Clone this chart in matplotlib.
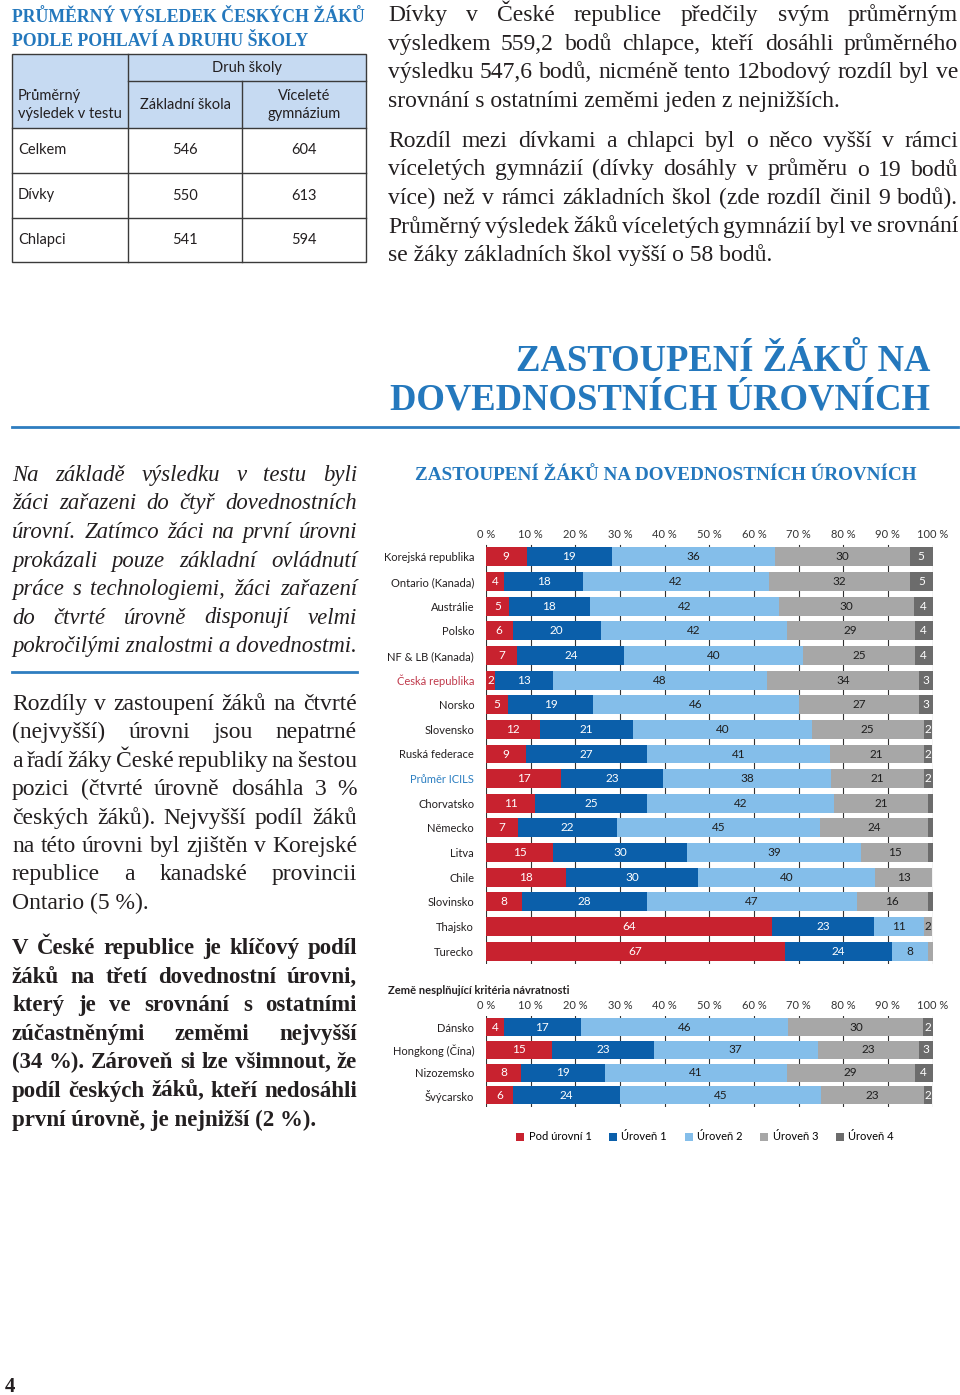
import matplotlib
matplotlib.use("Agg")
import matplotlib.pyplot as plt
from matplotlib.patches import Rectangle
from matplotlib.lines import Line2D

W, H = 960, 1395

# ---------- data ----------
table_cols = ["Základní škola", "Víceleté\ngymnázium"]
table_rows = ["Celkem", "Dívky", "Chlapci"]
table_zs = [546, 550, 541]
table_vg = [604, 613, 594]

countries = ["Korejská republika", "Ontario (Kanada)", "Austrálie", "Polsko",
             "NF & LB (Kanada)", "Česká republika", "Norsko", "Slovensko",
             "Ruská federace", "Průměr ICILS", "Chorvatsko", "Německo", "Litva",
             "Chile", "Slovinsko", "Thajsko", "Turecko"]
below1 = [9, 4, 5, 6, 7, 2, 5, 12, 9, 17, 11, 7, 15, 18, 8, 64, 67]
level1 = [19, 18, 18, 20, 24, 13, 19, 21, 27, 23, 25, 22, 30, 30, 28, 23, 24]
level2 = [36, 42, 42, 42, 40, 48, 46, 40, 41, 38, 42, 45, 39, 40, 47, 11, 8]
level3 = [30, 32, 30, 29, 25, 34, 27, 25, 21, 21, 21, 24, 15, 13, 16, 2, 1]
level4 = [5, 5, 4, 4, 4, 3, 3, 2, 2, 2, 1, 1, 1, 0, 1, 0, 0]

other = ["Dánsko", "Hongkong (Čína)", "Nizozemsko", "Švýcarsko"]
o_below1 = [4, 15, 8, 6]
o_level1 = [17, 23, 19, 24]
o_level2 = [46, 37, 41, 45]
o_level3 = [30, 23, 29, 23]
o_level4 = [2, 3, 4, 2]

level_names = ["Pod úrovní 1", "Úroveň 1", "Úroveň 2", "Úroveň 3", "Úroveň 4"]
level_colors = ["#C8222F", "#0B5FAA", "#84BEEA", "#A7A7A7", "#6C6C6C"]
label_colors = ["white", "white", "#1E1E1E", "#1E1E1E", "white"]
ticks = list(range(0, 101, 10))

BLUE = "#2478BD"
INK = "#231F20"
SERIF = "Liberation Serif"
SANS = "Lato"

fig = plt.figure(figsize=(W / 100, H / 100), dpi=100)
renderer = fig.canvas.get_renderer()


def text_px(x, y, s, **kw):
    return fig.text(x / W, 1 - y / H, s, **kw)


def width_px(s, **kw):
    t = fig.text(0, 0, s, **kw)
    w = t.get_window_extent(renderer).width
    t.remove()
    return w


def fitted(s, target, **kw):
    return 10 * target / width_px(s, fontsize=10, **kw)


def hline(x0, x1, y, color, lw):
    fig.add_artist(Line2D([x0 / W, x1 / W], [1 - y / H, 1 - y / H],
                          transform=fig.transFigure, color=color, lw=lw))


def paragraph(lines, x0, x1, y0, dy, size, **kw):
    # justified lines, last one left aligned
    for k, line in enumerate(lines):
        yb = y0 + k * dy
        if k == len(lines) - 1:
            text_px(x0, yb, line, fontsize=size, va="baseline", color=INK, **kw)
            continue
        words = line.split(" ")
        ws = [width_px(w, fontsize=size, **kw) for w in words]
        gap = (x1 - x0 - sum(ws)) / (len(words) - 1)
        x = x0
        for w, wd in zip(words, ws):
            text_px(x, yb, w, fontsize=size, va="baseline", color=INK, **kw)
            x += wd + gap


# ---------- top-left: heading + table ----------
hd = dict(family=SERIF, weight="bold", color=BLUE)
s = fitted("PRŮMĚRNÝ VÝSLEDEK ČESKÝCH ŽÁKŮ", 353, family=SERIF, weight="bold")
text_px(12, 22, "PRŮMĚRNÝ VÝSLEDEK ČESKÝCH ŽÁKŮ", fontsize=s, va="baseline", **hd)
text_px(12, 46, "PODLE POHLAVÍ A DRUHU ŠKOLY", fontsize=s, va="baseline", **hd)

xs = [12, 128, 242, 366]
ys = [54, 81, 128, 173, 218, 262]
edge = "#3A3A3A"
fig.add_artist(Rectangle((xs[0] / W, 1 - ys[2] / H), (xs[3] - xs[0]) / W,
                         (ys[2] - ys[0]) / H, transform=fig.transFigure,
                         facecolor="#C6DAF2", edgecolor="none"))
fig.add_artist(Rectangle((xs[0] / W, 1 - ys[5] / H), (xs[3] - xs[0]) / W,
                         (ys[5] - ys[0]) / H, transform=fig.transFigure,
                         facecolor="none", edgecolor=edge, lw=1))
hline(xs[1], xs[3], ys[1], edge, 1)
for y in ys[2:5]:
    hline(xs[0], xs[3], y, edge, 1)
fig.add_artist(Line2D([xs[1] / W] * 2, [1 - ys[0] / H, 1 - ys[5] / H],
                      transform=fig.transFigure, color=edge, lw=1))
fig.add_artist(Line2D([xs[2] / W] * 2, [1 - ys[1] / H, 1 - ys[5] / H],
                      transform=fig.transFigure, color=edge, lw=1))

tb = dict(family=SANS, fontsize=10.5, color=INK, va="center")
text_px(247, 68, "Druh školy", ha="center", **tb)
text_px(18, 105, "Průměrný\nvýsledek v testu", ha="left", linespacing=1.3, **tb)
text_px(185, 105, table_cols[0], ha="center", **tb)
text_px(304, 105, table_cols[1], ha="center", linespacing=1.3, **tb)
for k, name in enumerate(table_rows):
    yc = (ys[k + 2] + ys[k + 3]) / 2
    text_px(18, yc, name, ha="left", **tb)
    text_px(185, yc, str(table_zs[k]), ha="center", **tb)
    text_px(304, yc, str(table_vg[k]), ha="center", **tb)

# ---------- top-right paragraphs ----------
p1 = ["Dívky v České republice předčily svým průměrným",
      "výsledkem 559,2 bodů chlapce, kteří dosáhli průměrného",
      "výsledku 547,6 bodů, nicméně tento 12bodový rozdíl byl ve",
      "srovnání s ostatními zeměmi jeden z nejnižších."]
p2 = ["Rozdíl mezi dívkami a chlapci byl o něco vyšší v rámci",
      "víceletých gymnázií (dívky dosáhly v průměru o 19 bodů",
      "více) než v rámci základních škol (zde rozdíl činil 9 bodů).",
      "Průměrný výsledek žáků víceletých gymnázií byl ve srovnání",
      "se žáky základních škol vyšší o 58 bodů."]
sz = fitted(p1[-1], 452, family=SERIF)
paragraph(p1, 388, 958, 21, 28.7, sz, family=SERIF)
paragraph(p2, 388, 958, 147, 28.5, sz, family=SERIF)

# ---------- section heading ----------
sh = fitted("DOVEDNOSTNÍCH ÚROVNÍCH", 538, family=SERIF, weight="bold")
text_px(930, 371, "ZASTOUPENÍ ŽÁKŮ NA", fontsize=sh, ha="right", va="baseline", **hd)
text_px(930, 410, "DOVEDNOSTNÍCH ÚROVNÍCH", fontsize=sh, ha="right", va="baseline", **hd)
hline(12, 958, 427, "#2E7DC0", 2)

# ---------- left column ----------
it = ["Na základě výsledku v testu byli",
      "žáci zařazeni do čtyř dovednostních",
      "úrovní. Zatímco žáci na první úrovni",
      "prokázali pouze základní ovládnutí",
      "práce s technologiemi, žáci zařazení",
      "do čtvrté úrovně disponují velmi",
      "pokročilými znalostmi a dovednostmi."]
rg = ["Rozdíly v zastoupení žáků na čtvrté",
      "(nejvyšší) úrovni jsou nepatrné",
      "a řadí žáky České republiky na šestou",
      "pozici (čtvrté úrovně dosáhla 3 %",
      "českých žáků). Nejvyšší podíl žáků",
      "na této úrovni byl zjištěn v Korejské",
      "republice a kanadské provincii",
      "Ontario (5 %)."]
bd = ["V České republice je klíčový podíl",
      "žáků na třetí dovednostní úrovni,",
      "který je ve srovnání s ostatními",
      "zúčastněnými zeměmi nejvyšší",
      "(34 %). Zároveň si lze všimnout, že",
      "podíl českých žáků, kteří nedosáhli",
      "první úrovně, je nejnižší (2 %)."]
si = fitted(it[-1], 345, family=SERIF, style="italic")
paragraph(it, 12, 357, 481, 28.5, si, family=SERIF, style="italic")
hline(12, 357, 672, "#2E7DC0", 2)
paragraph(rg, 12, 357, 710, 28.4, sz, family=SERIF)
sb = fitted(bd[-1], 305, family=SERIF, weight="bold")
paragraph(bd, 12, 357, 954, 28.6, sb, family=SERIF, weight="bold")

text_px(5, 1392, "4", fontsize=15, family=SERIF, weight="bold", color=INK, va="baseline")

# ---------- chart ----------
ct = fitted("ZASTOUPENÍ ŽÁKŮ NA DOVEDNOSTNÍCH ÚROVNÍCH", 502, family=SERIF, weight="bold")
text_px(666, 480, "ZASTOUPENÍ ŽÁKŮ NA DOVEDNOSTNÍCH ÚROVNÍCH", fontsize=ct,
        ha="center", va="baseline", **hd)


def stacked(ax, names, series, bar_h):
    n = len(names)
    totals = [sum(v[i] for v in series) for i in range(n)]
    lefts = [0.0] * n
    handles = []
    for vals, col, lc, nm in zip(series, level_colors, label_colors, level_names):
        widths = [v / t * 100 for v, t in zip(vals, totals)]
        h = ax.barh(range(n), widths, left=lefts, height=bar_h, color=col,
                    linewidth=0, label=nm, zorder=2)
        handles.append(h)
        for i, (v, w, l) in enumerate(zip(vals, widths, lefts)):
            if v >= 2:
                ax.text(l + w / 2, i, str(v), ha="center", va="center",
                        fontsize=8.5, family=SANS, color=lc, zorder=3)
        lefts = [l + w for l, w in zip(lefts, widths)]
    ax.set_xlim(0, 100)
    ax.set_ylim(n - 0.5, -0.5)
    ax.set_xticks(ticks)
    ax.set_xticklabels([f"{t} %" for t in ticks], family=SANS, fontsize=8, color="#333333")
    ax.xaxis.tick_top()
    ax.set_yticks(range(n))
    ax.set_yticklabels(names, family=SANS, fontsize=8, color=INK)
    ax.tick_params(axis="x", length=0, pad=3.5)
    ax.tick_params(axis="y", length=0, pad=8.5)
    ax.grid(axis="x", color="#333333", lw=0.8, zorder=0)
    ax.set_axisbelow(True)
    for sp in ax.spines.values():
        sp.set_visible(False)
    return handles


def box(x0, y0, x1, y1):
    return [x0 / W, 1 - y1 / H, (x1 - x0) / W, (y1 - y0) / H]


ax = fig.add_axes(box(486, 544.5, 932.5, 963.5))
handles = stacked(ax, countries, [below1, level1, level2, level3, level4], 0.77)
for lbl in ax.get_yticklabels():
    if lbl.get_text() == "Česká republika":
        lbl.set_color("#C0394B")
    elif lbl.get_text() == "Průměr ICILS":
        lbl.set_color("#2C7FC1")

text_px(388, 991, "Země nesplňující kritéria návratnosti", family=SANS,
        weight="bold", fontsize=8, color=INK, va="center")
ax2 = fig.add_axes(box(486, 1016, 932.5, 1106.5))
stacked(ax2, other, [o_below1, o_level1, o_level2, o_level3, o_level4], 0.8)

fig.legend(handles, level_names, ncol=5, loc="center",
           bbox_to_anchor=(705 / W, 1 - 1137 / H), frameon=False,
           prop=dict(family=SANS, size=8), handlelength=0.7, handleheight=0.7,
           handletextpad=0.4, columnspacing=1.6)

fig.savefig("out.png", dpi=100)
